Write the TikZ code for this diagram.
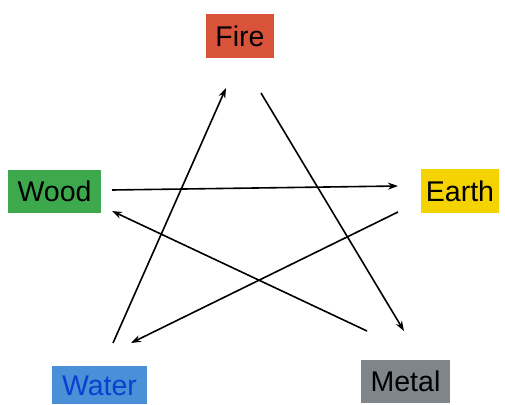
\documentclass[tikz,border=0pt]{standalone}
\usepackage{fontspec}
\setmainfont{Liberation Sans}
\usetikzlibrary{arrows.meta}

\definecolor{firecol}{HTML}{D9533A}
\definecolor{woodcol}{HTML}{3DA84C}
\definecolor{earthcol}{HTML}{F5D300}
\definecolor{watercol}{HTML}{4A90D9}
\definecolor{watertext}{HTML}{0B3FCF}
\definecolor{metalcol}{HTML}{7E858B}

\tikzset{
    element/.style={inner sep=0pt, font=\fontsize{28.5}{31}\selectfont, text height=20.5pt, text depth=0pt},
    cycle/.style={line width=1.6pt, -{Stealth[length=10pt,width=7pt]}}
}

\begin{document}
\begin{tikzpicture}[x=1pt, y=-1pt]
    \useasboundingbox (0,0) rectangle (505,404);

    % Elements
    \node[element, fill=firecol, minimum width=68pt, minimum height=44pt] (fire) at (240,36) {Fire};
    \node[element, fill=woodcol, minimum width=93pt, minimum height=43pt] (wood) at (54.5,191.5) {Wood};
    \node[element, fill=earthcol, minimum width=78pt, minimum height=44pt] (earth) at (460,191) {Earth};
    \node[element, fill=watercol, text=watertext, minimum width=95pt, minimum height=38pt] (water) at (99.5,385) {Water};
    \node[element, fill=metalcol, minimum width=89pt, minimum height=43pt] (metal) at (405.5,381.5) {Metal};

    % Arrow ends
    \coordinate (water-out) at (113,343);
    \coordinate (fire-in) at (226,88);
    \coordinate (fire-out) at (261,93);
    \coordinate (metal-in) at (404,331);
    \coordinate (metal-out) at (367,331);
    \coordinate (wood-in) at (112,211);
    \coordinate (wood-out) at (112,190);
    \coordinate (earth-in) at (398,186);
    \coordinate (earth-out) at (398,212);
    \coordinate (water-in) at (131,343);

    % Cycle
    \draw[cycle] (water-out) -- (fire-in);
    \draw[cycle] (fire-out) -- (metal-in);
    \draw[cycle] (metal-out) -- (wood-in);
    \draw[cycle] (wood-out) -- (earth-in);
    \draw[cycle] (earth-out) -- (water-in);
\end{tikzpicture}
\end{document}
